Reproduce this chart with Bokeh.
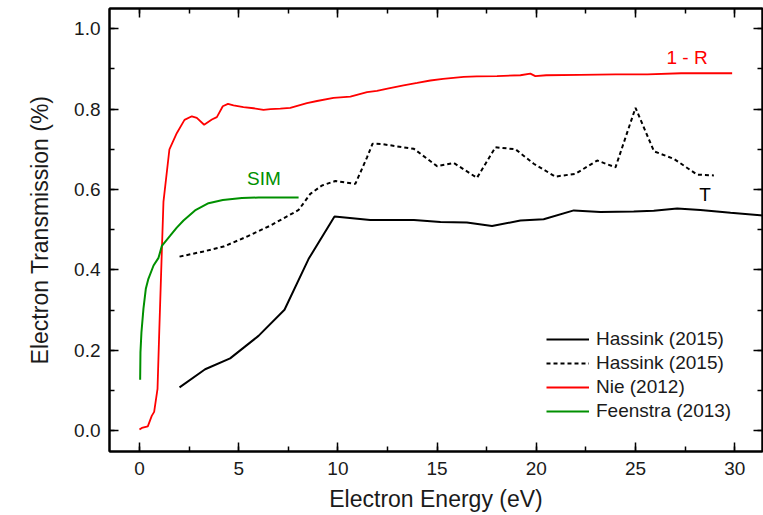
from bokeh.plotting import figure
from bokeh.models import (Range1d, LinearAxis, Legend, LegendItem, ColumnDataSource,
                          SingleIntervalTicker, PrintfTickFormatter, CustomJSTickFormatter)
from bokeh.embed import file_html
from bokeh.resources import INLINE
from bokeh.core.properties import value

# ---------------- data ----------------
nie_x = [0, 0.12, 0.42, 0.62, 0.74, 0.91, 1.0, 1.11, 1.21, 1.51, 1.88, 2.27, 2.64, 2.89,
         3.26, 3.65, 3.9, 4.2, 4.46, 4.74, 5.24, 5.75, 6.25, 6.6, 7.1, 7.6, 8.44, 8.95,
         9.78, 10.63, 11.47, 11.97, 12.5, 13.31, 14.0, 14.66, 15.3, 16.34, 17.0, 18.02,
         19.2, 19.7, 19.95, 20.5, 22.2, 24.0, 25.6, 27.3, 29.87]
nie_y = [0.003, 0.007, 0.011, 0.037, 0.047, 0.104, 0.25, 0.42, 0.57, 0.70, 0.74, 0.773,
         0.782, 0.778, 0.761, 0.774, 0.78, 0.807, 0.813, 0.809, 0.805, 0.802, 0.798, 0.8,
         0.801, 0.803, 0.815, 0.82, 0.828, 0.831, 0.842, 0.845, 0.851, 0.859, 0.865,
         0.871, 0.875, 0.88, 0.881, 0.882, 0.884, 0.888, 0.882, 0.884, 0.885, 0.886,
         0.886, 0.889, 0.889]

feen_x = [0.035, 0.05, 0.1, 0.2, 0.32, 0.45, 0.71, 0.96, 1.13, 1.55, 1.88, 2.22, 2.8,
          3.48, 4.2, 5.16, 6.0, 7.0, 8.02]
feen_y = [0.127, 0.195, 0.245, 0.303, 0.353, 0.378, 0.411, 0.43, 0.46, 0.485, 0.505,
          0.523, 0.548, 0.566, 0.574, 0.579, 0.58, 0.58, 0.58]

hass_t_x = [2.02, 3.31, 4.57, 6.0, 7.31, 8.52, 9.83, 11.63, 13.83, 15.17, 16.5, 17.77,
            19.2, 20.37, 21.89, 23.23, 24.91, 25.92, 27.1, 28.27, 29.79, 31.45]
hass_t_y = [0.108, 0.153, 0.18, 0.236, 0.301, 0.427, 0.533, 0.524, 0.524, 0.519, 0.518,
            0.509, 0.523, 0.526, 0.548, 0.544, 0.545, 0.547, 0.553, 0.549, 0.542, 0.535]

hass_d_x = [2.02, 3.23, 4.24, 5.42, 6.59, 8.02, 8.61, 9.2, 9.87, 10.88, 11.47, 11.75,
            12.2, 13.83, 15.0, 15.84, 17.01, 17.94, 18.95, 19.87, 20.96, 21.97, 23.07,
            23.99, 25.0, 25.93, 26.94, 28.1, 28.95]
hass_d_y = [0.433, 0.446, 0.458, 0.483, 0.51, 0.549, 0.589, 0.61, 0.621, 0.614, 0.68,
            0.714, 0.713, 0.701, 0.658, 0.666, 0.629, 0.705, 0.7, 0.664, 0.632, 0.639,
            0.672, 0.655, 0.803, 0.695, 0.676, 0.637, 0.635]

series_labels = ["Hassink (2015)", "Hassink (2015)", "Nie (2012)", "Feenstra (2013)"]

note_text = ["1 - R", "SIM", "T"]
note_x = [27.6, 6.27, 28.5]
note_y = [0.929, 0.628, 0.587]
note_color = ["#ff0000", "#009000", "#000000"]

x_start, x_end = -1.51, 31.4
y_start, y_end = -0.0515, 1.05

FONT = "Liberation Sans"

# ---------------- figure ----------------
p = figure(width=763, height=515, output_backend="svg", toolbar_location=None,
           x_range=Range1d(x_start, x_end), y_range=Range1d(y_start, y_end),
           min_border_left=109, min_border_right=1, min_border_top=8,
           min_border_bottom=64)
p.grid.visible = False
p.outline_line_color = "black"
p.outline_line_width = 2
p.background_fill_color = "white"
p.border_fill_color = "white"

p.xaxis.ticker = SingleIntervalTicker(interval=5, num_minor_ticks=2)
p.yaxis.ticker = SingleIntervalTicker(interval=0.2, num_minor_ticks=2)
p.yaxis.formatter = PrintfTickFormatter(format="%.1f")
p.xaxis.formatter = PrintfTickFormatter(format="%d")


def style_axis(ax, labels=True):
    ax.axis_line_width = 2
    ax.axis_line_color = "black"
    ax.major_tick_in = 9
    ax.major_tick_out = 0
    ax.minor_tick_in = 5
    ax.minor_tick_out = 0
    ax.major_tick_line_width = 1.5
    ax.minor_tick_line_width = 1.5
    ax.major_tick_line_color = "black"
    ax.minor_tick_line_color = "black"
    if labels:
        ax.major_label_text_font = FONT
        ax.major_label_text_font_size = "19px"
        ax.major_label_text_color = "#1a1a1a"
        ax.axis_label_text_font = FONT
        ax.axis_label_text_font_size = "23px"
        ax.axis_label_text_font_style = "normal"
        ax.axis_label_text_color = "#1a1a1a"
    else:
        ax.formatter = CustomJSTickFormatter(code="return '';")
        ax.major_label_standoff = 0
        ax.axis_label = None


style_axis(p.xaxis[0])
style_axis(p.yaxis[0])
p.xaxis.axis_label = "Electron Energy (eV)"
p.yaxis.axis_label = "Electron Transmission (%)"
p.xaxis.major_label_standoff = 10
p.xaxis.axis_label_standoff = 8
p.yaxis.major_label_standoff = 9
p.yaxis.axis_label_standoff = 18

top_ax = LinearAxis(ticker=SingleIntervalTicker(interval=5, num_minor_ticks=2))
right_ax = LinearAxis(ticker=SingleIntervalTicker(interval=0.2, num_minor_ticks=2))
style_axis(top_ax, labels=False)
style_axis(right_ax, labels=False)
p.add_layout(top_ax, "above")
p.add_layout(right_ax, "right")

r_t = p.line(hass_t_x, hass_t_y, line_color="black", line_width=2)
r_d = p.line(hass_d_x, hass_d_y, line_color="black", line_width=2, line_dash="4 3")
r_n = p.line(nie_x, nie_y, line_color="#ff0000", line_width=1.8)
r_f = p.line(feen_x, feen_y, line_color="#009000", line_width=2)

notes = ColumnDataSource(dict(x=note_x, y=note_y, text=note_text, color=note_color))
p.text(x="x", y="y", text="text", text_color="color", source=notes,
       text_font=value(FONT), text_font_size="19px", text_align="center",
       text_baseline="middle")

legend = Legend(items=[LegendItem(label=series_labels[i], renderers=[r])
                       for i, r in enumerate([r_t, r_d, r_n, r_f])],
                location=(437, 28))
legend.glyph_width = 43
legend.glyph_height = 24
legend.label_height = 24
legend.spacing = 0
legend.padding = 0
legend.margin = 0
legend.label_standoff = 7
legend.border_line_color = None
legend.background_fill_alpha = 0
legend.label_text_font = FONT
legend.label_text_font_size = "19px"
legend.label_text_color = "#1a1a1a"
p.add_layout(legend)

open("out.html", "w").write(file_html(p, INLINE))
